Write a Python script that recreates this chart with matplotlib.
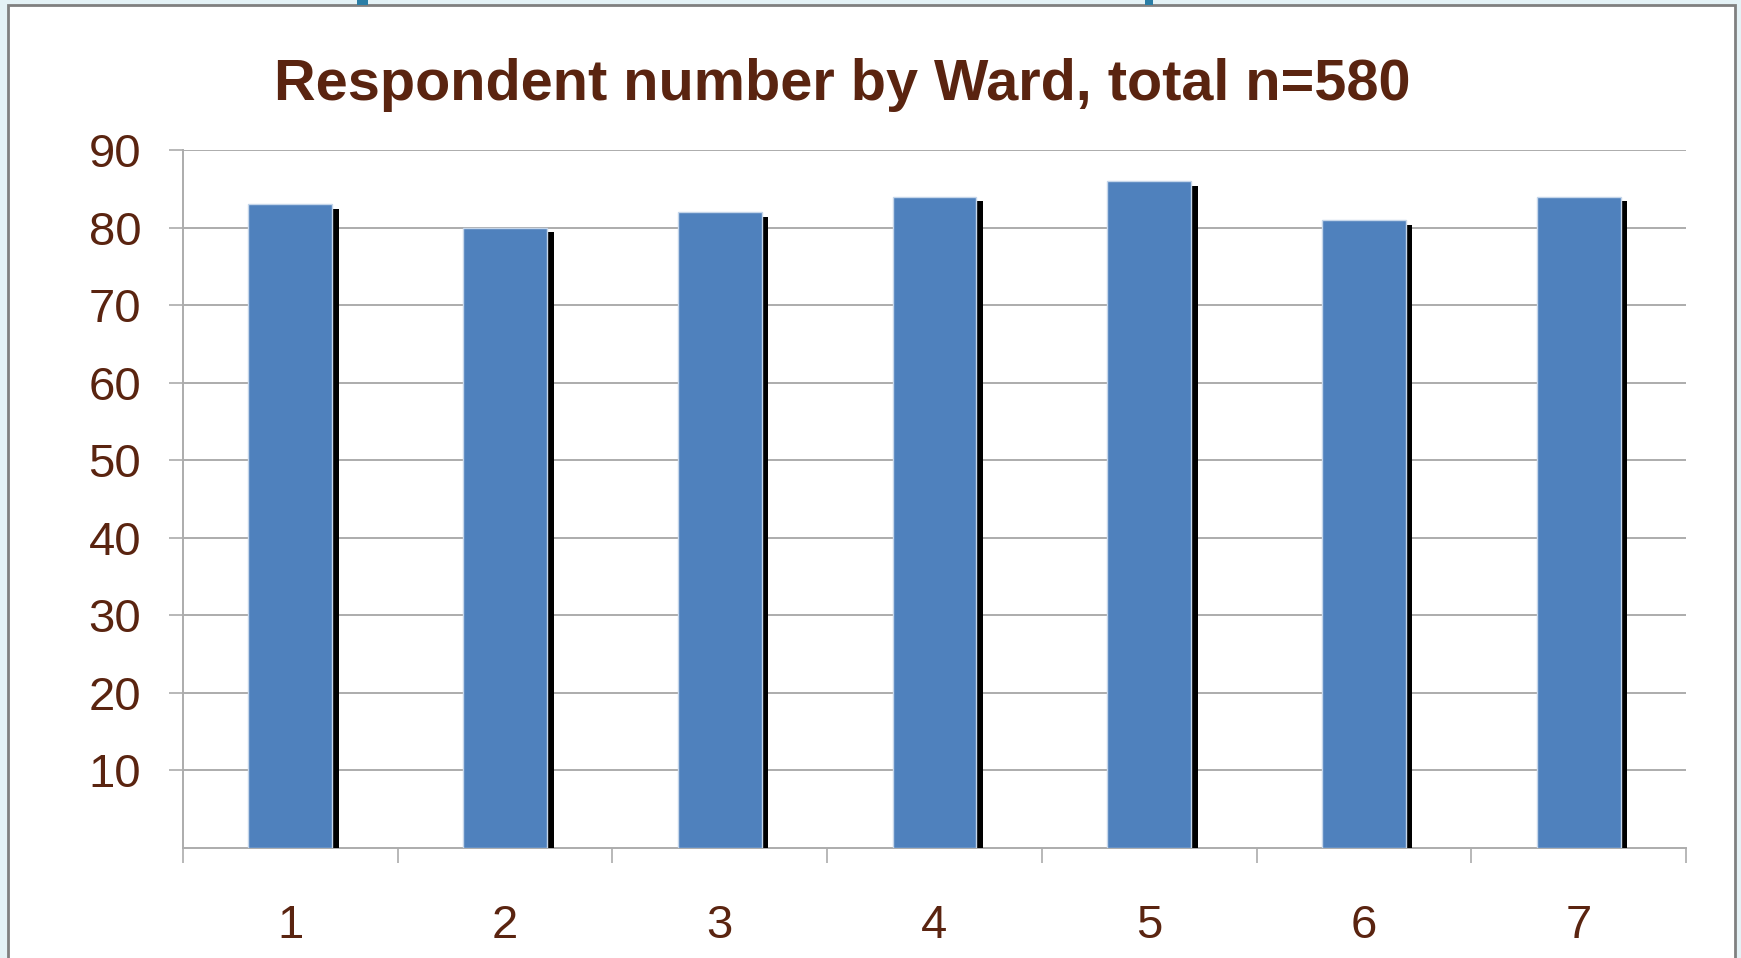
import matplotlib.pyplot as plt
import matplotlib.patheffects as pe
from matplotlib.patches import Rectangle
from matplotlib.ticker import FixedLocator

# data
wards = ["1", "2", "3", "4", "5", "6", "7"]
respondents = [83, 80, 82, 84, 86, 81, 84]
y_ticks = [10, 20, 30, 40, 50, 60, 70, 80, 90]

brown = "#5a2410"
grid_grey = "#acacac"
bar_blue = "#4f81bd"

plt.rcParams["font.family"] = ["Liberation Sans", "DejaVu Sans"]

fig = plt.figure(figsize=(17.41, 9.58), dpi=100)
fig.patch.set_facecolor("#e4f2f6")

# slide frame
W, H = 1741, 958
fig.patches.append(Rectangle((8 / W, -0.05), (1735 - 8) / W, 1.05 - 5 / H,
                             transform=fig.transFigure, facecolor="white",
                             edgecolor="#808080", linewidth=2, zorder=-2))
for x0, x1 in [(357, 368), (1145, 1153)]:
    fig.patches.append(Rectangle((x0 / W, 1 - 5 / H), (x1 - x0) / W, 5 / H,
                                 transform=fig.transFigure, facecolor="#2b7ea6",
                                 edgecolor="none", zorder=-1))

ax = fig.add_axes([183 / W, 1 - 848 / H, (1686 - 183) / W, (848 - 150) / H])
ax.set_facecolor("none")

x = range(1, len(wards) + 1)
bars = ax.bar(x, respondents, width=0.39, color=bar_blue, edgecolor="#c5d6ea",
              linewidth=1.0, zorder=3)
for b in bars:
    b.set_path_effects([pe.SimplePatchShadow(offset=(4.8, -3.5), shadow_rgbFace="black",
                                             alpha=1.0), pe.Normal()])

ax.set_xlim(0.5, 7.5)
ax.set_ylim(0, 90)

ax.set_yticks(y_ticks)
ax.set_yticklabels([str(v) for v in y_ticks])
ax.yaxis.grid(True, color=grid_grey, linewidth=1.4, zorder=0)
ax.set_axisbelow(True)
ax.tick_params(axis="y", length=10, width=1.2, color=grid_grey, pad=20,
               labelsize=34, labelcolor=brown)

ax.set_xticks(list(x))
ax.set_xticklabels(wards)
ax.xaxis.set_minor_locator(FixedLocator([i + 0.5 for i in range(0, 8)]))
ax.tick_params(axis="x", which="major", length=0, pad=40, labelsize=34, labelcolor=brown)
ax.tick_params(axis="x", which="minor", length=11, width=1.2, color=grid_grey)

for s in ["top", "right"]:
    ax.spines[s].set_visible(False)
for s in ["left", "bottom"]:
    ax.spines[s].set_color(grid_grey)
    ax.spines[s].set_linewidth(1.4)

fig.text(842 / W, 1 - 100 / H, "Respondent number by Ward, total n=580",
         ha="center", va="baseline", fontsize=41.5, fontweight="bold", color=brown)

fig.savefig("out.png", dpi=100, facecolor=fig.get_facecolor())
